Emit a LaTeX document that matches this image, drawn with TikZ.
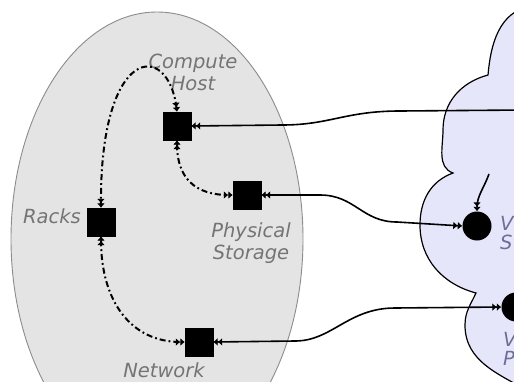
\documentclass[tikz,border=0pt]{standalone}
\usepackage{fontspec}
\setmainfont{DejaVu Sans}
\usetikzlibrary{arrows.meta}
\definecolor{hostfill}{HTML}{E4E4E4}
\definecolor{hostline}{HTML}{8C8C8C}
\definecolor{cloudfill}{HTML}{E6E6FA}
\definecolor{labelgray}{HTML}{747474}
\definecolor{labelblue}{HTML}{6E6E9A}
\begin{document}
\begin{tikzpicture}[x=1pt,y=-1pt,
  Dbl/.tip={Latex[length=4.5pt,width=8pt] Latex[length=4.5pt,width=8pt]},
  unit/.style={fill=black,draw=black,minimum size=28pt,inner sep=0pt},
  vunit/.style={circle,fill=black,minimum size=29pt,inner sep=0pt},
  lbl/.style={font=\fontsize{19.5}{23}\selectfont\itshape,text=labelgray,align=center,inner sep=1pt},
  vlbl/.style={lbl,text=labelblue,align=left},
  link/.style={line width=1.6pt,{Dbl}-{Dbl}},
  dlink/.style={line width=2pt,{Dbl}-{Dbl},dash pattern=on 6pt off 3pt on 1.8pt off 3pt}]
\useasboundingbox (0,0) rectangle (514,381);

% physical side
\filldraw[fill=hostfill,draw=hostline,line width=0.9pt] (157,239) ellipse [x radius=146, y radius=227];

% virtual cloud
\filldraw[fill=cloudfill,draw=black,line width=1.2pt]
  (530,6) to[out=192,in=85] (488,75)
  to[out=195,in=90] (443,130)
  to[out=270,in=160] (453,173)
  to[out=200,in=90] (420,225)
  to[out=270,in=165] (476,293)
  to[out=245,in=90] (465,325)
  to[out=270,in=150] (530,392)
  -- (560,392) -- (560,6) -- cycle;

% physical units
\node[unit] (host) at (177,126) {};
\node[unit] (pstore) at (247,195) {};
\node[unit] (racks) at (101,222) {};
\node[unit] (net) at (199,342) {};

% virtual units
\node[vunit] (vstore) at (477,226) {};
\node[vunit] (vport) at (516,307) {};
\coordinate (vtop) at (524,110);
\coordinate (vfeed) at (489,174);

% labels
\node[lbl] (hostlbl) at (193,72) {Compute\\[-1pt]Host};
\node[lbl,anchor=east] (rackslbl) at (82,216) {Racks};
\node[lbl] (pstorelbl) at (251,243) {Physical\\[-1pt]Storage};
\node[lbl] (netlbl) at (164,370) {Network};
\node[vlbl,anchor=west] (vstorelbl) at (499,235) {Virtual\\[-4pt]Storage};
\node[vlbl,anchor=west] (vportlbl) at (502,349) {Virtual\\[-4pt]Port};

% physical-to-virtual links
\draw[link] (host.east) -- (282,125) .. controls (330,125) and (345,111) .. (400,111) -- (vtop);
\draw[link] (pstore.east) -- (320,195) .. controls (355,195) and (362,222) .. (397,222) -- (vstore.west);
\draw[link] (net.east) -- (295,341) .. controls (332,341) and (348,308) .. (395,308) -- (vport.west);
\draw[line width=1.6pt,-{Dbl}] (vfeed) to[out=250,in=90] (vstore.north);

% containment links
\draw[dlink] (host.north) .. controls (168,40) and (100,45) .. (racks.north);
\draw[dlink] (host.south) .. controls (177,178) and (195,195) .. (pstore.west);
\draw[dlink] (racks.south) .. controls (101,300) and (130,342) .. (net.west);
\end{tikzpicture}
\end{document}
